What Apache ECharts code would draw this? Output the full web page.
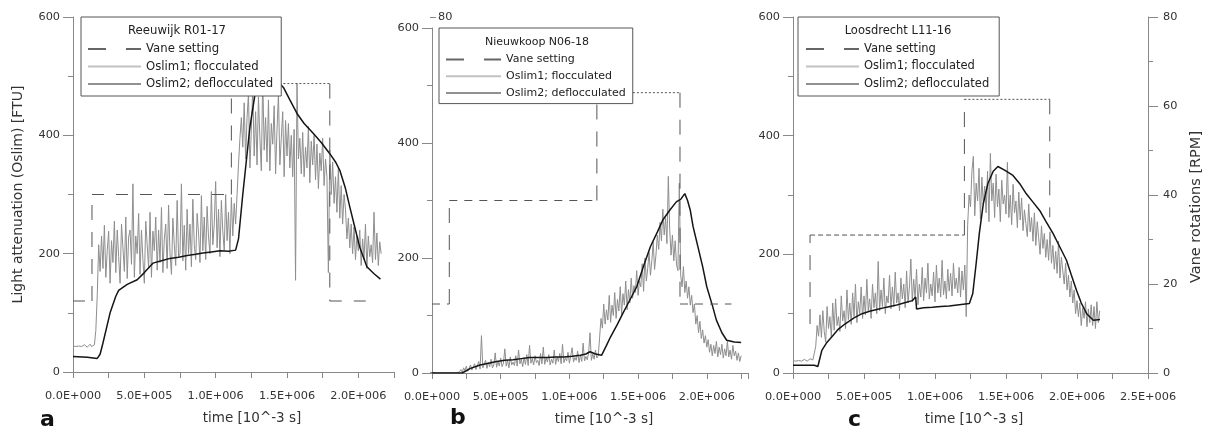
<!DOCTYPE html>
<html>
<head>
<meta charset="utf-8">
<title>Oslim vane tests</title>
<script src="https://cdn.jsdelivr.net/npm/echarts@6/dist/echarts.min.js"></script>
<style>
  html, body { margin: 0; padding: 0; background: #fff; }
  #main { width: 1209px; height: 432px; }
</style>
</head>
<body>
<div id="main"></div>
<script>
// Oslim1 is logged at a fixed step [10^-3 s]
const dt = 10000;

// a: Reeuwijk R01-17
const oslim1A = [
  44, 46, 43, 45, 44, 47, 43, 45, 46, 44, 42, 45, 47, 43, 44, 46,
  70, 130, 215, 170,
  230, 175, 248, 160, 205, 238, 150, 222, 185, 255,
  168, 240, 195, 150, 250, 210, 170, 262, 158, 228,
  240, 182, 318, 160, 230, 200, 268, 165, 240, 190,
  150, 255, 215, 175, 270, 160, 238, 205, 262, 172,
  240, 185, 278, 168, 225, 250, 175, 282, 200, 165,
  260, 215, 180, 290, 195, 200, 318, 188, 248, 172,
  275, 200, 250, 178, 292, 215, 190, 268, 235, 185,
  298, 205, 262, 190, 280, 228, 200, 305, 215, 250,
  322, 210, 275, 195, 290, 238, 205, 300, 222, 270,
  200, 295, 230, 285,
  250, 300, 350, 395, 430, 380,
  455, 360, 430, 470, 345, 410, 480, 365, 440, 350,
  465, 395, 340, 500, 375, 430, 355, 460, 340, 420,
  385, 450, 335, 410, 470, 350, 395, 440, 330, 425, 365,
  420, 345, 400, 330, 410, 155, 488, 360, 395, 335,
  405, 330, 380, 345, 415, 320, 390, 350, 400, 325,
  385, 310, 370, 340, 395, 315, 360, 330, 168, 375,
  300, 355, 285, 330, 270, 345, 260, 315, 250, 300,
  275, 225, 260, 210, 250, 200, 245, 190, 230, 205,
  240, 180, 225, 190, 250, 175, 230, 195, 215, 185,
  270, 190, 235, 180, 220, 200
];
const oslim2A = [
  [0, 26], [100000, 25], [170000, 23], [190000, 30], [210000, 49], [260000, 100],
  [300000, 128], [320000, 138], [380000, 148], [450000, 156], [500000, 168],
  [560000, 184], [620000, 188], [680000, 192], [740000, 194], [800000, 197],
  [860000, 199], [910000, 201], [970000, 203], [1030000, 205], [1090000, 204],
  [1140000, 206], [1160000, 225], [1190000, 300], [1240000, 414], [1280000, 476],
  [1320000, 496], [1360000, 500], [1405000, 498], [1440000, 490], [1475000, 481],
  [1520000, 460], [1570000, 437], [1620000, 420], [1685000, 403], [1740000, 388],
  [1800000, 369], [1840000, 355], [1870000, 341], [1910000, 310], [1940000, 279],
  [1980000, 240], [2010000, 211], [2060000, 178], [2110000, 166], [2155000, 157]
];
const vaneA = [[0, 16], [133000, 16], [133000, 40], [1110000, 40], [1110000, 65], [1800000, 65], [1800000, 16], [2100000, 16]];

// b: Nieuwkoop N06-18
const oslim1B = [
  0, 0, 0, 0, 0, 0, 0, 0, 0, 0, 0, 0, 0, 0, 0, 0, 0, 0, 0, 0,
  2, 6, 1, 9, 4, 12, 3, 8, 14, 5,
  10, 16, 6, 13, 20, 7, 65, 9, 15, 22,
  8, 18, 11, 24, 9, 14, 35, 10, 20, 12,
  26, 11, 17, 42, 12, 22, 9, 28, 14, 19,
  13, 30, 12, 40, 16, 24, 11, 27, 15, 32,
  13, 48, 17, 25, 14, 30, 18, 22, 13, 34,
  16, 45, 15, 26, 19, 32, 14, 24, 17, 40,
  15, 28, 20, 34, 16, 50, 18, 26, 21, 36,
  17, 30, 44, 19, 27, 22, 38, 18, 31, 20,
  52, 21, 29, 23, 35, 70, 22, 33, 24, 40, 26,
  30, 62, 95, 78,
  120, 85, 110, 92, 135, 88, 118, 100, 140, 95,
  128, 108, 150, 102, 138, 118, 160, 110, 145, 122,
  165, 130, 152, 140, 178, 135, 160, 150, 190, 142,
  200, 160, 182, 210, 170, 195, 228, 180, 205, 240,
  215, 262, 230, 285, 240, 270,
  225, 342, 250, 205, 240, 195, 230, 188, 178, 330,
  170, 150, 185, 140, 160, 130, 150, 118, 135, 105,
  120, 85, 100, 70, 90, 60, 75, 52, 65, 45,
  58, 36, 50, 30, 48, 34, 55, 28, 45, 32,
  50, 26, 42, 30, 55, 28, 40, 24, 48, 30,
  38, 22, 35, 20, 30
];
const oslim2B = [
  [0, 0], [220000, 0], [280000, 8], [350000, 14], [410000, 17], [470000, 20],
  [530000, 22], [590000, 23], [650000, 25], [710000, 27], [770000, 27], [840000, 27],
  [900000, 28], [960000, 28], [1020000, 29], [1080000, 31], [1120000, 33], [1150000, 37],
  [1190000, 33], [1235000, 31], [1270000, 48], [1300000, 63], [1350000, 85], [1390000, 104],
  [1440000, 127], [1490000, 150], [1540000, 186], [1590000, 220], [1640000, 245],
  [1680000, 266], [1730000, 283], [1780000, 298], [1810000, 302], [1840000, 312],
  [1860000, 300], [1880000, 283], [1900000, 255], [1930000, 225], [1970000, 185],
  [2000000, 150], [2040000, 118], [2070000, 92], [2110000, 70], [2145000, 57],
  [2200000, 54], [2250000, 53]
];
const vaneB = [[0, 16], [126000, 16], [126000, 40], [1200000, 40], [1200000, 65], [1805000, 65], [1805000, 16], [2180000, 16]];

// c: Loosdrecht L11-16
const oslim1C = [
  21, 23, 20, 22, 21, 24, 20, 22, 23, 21, 20, 22, 24, 21, 22, 20,
  45, 80, 62, 98,
  60, 105, 70, 52, 112, 75, 95, 60, 118, 72,
  125, 80, 95, 70, 130, 88, 105, 75, 140, 90,
  118, 82, 135, 95, 150, 85, 120, 100, 145, 92,
  130, 98, 158, 105, 125, 92, 150, 110, 135, 100,
  188, 105, 140, 112, 160, 100, 130, 118, 165, 108,
  145, 112, 170, 118, 135, 105, 160, 125, 150, 110,
  172, 118, 145, 192, 120, 158, 125, 175, 115, 150,
  128, 178, 122, 160, 135, 185, 125, 150, 130, 170,
  120, 182, 135, 160, 128, 190, 132, 155, 125, 175,
  138, 168, 130, 185, 142, 160, 135, 178, 128, 172, 140, 182,
  95, 250, 300,
  280, 340, 365, 265, 320, 290, 345, 260, 330, 285,
  315, 270, 340, 255, 370, 290, 320, 262, 335, 280,
  310, 255, 325, 285, 300, 268,
  355, 262, 300, 250, 318, 270, 290, 245, 305, 258,
  295, 240, 275, 252, 230, 285, 238, 262, 222, 270,
  215, 255, 228, 200, 248, 210, 235, 195, 225, 190,
  238, 185, 215, 175, 205, 168, 222, 160, 195, 172,
  150, 185, 140, 165, 128, 155, 118, 140, 100, 122,
  95, 118, 80, 110, 92, 120, 78, 108, 85, 115,
  80, 112, 75, 120, 85, 105
];
const oslim2C = [
  [0, 13], [150000, 13], [175000, 11], [203000, 38], [240000, 52], [274000, 61],
  [320000, 74], [368000, 83], [430000, 93], [486000, 100], [540000, 104], [604000, 108],
  [660000, 111], [722000, 114], [780000, 118], [840000, 122], [864000, 128], [870000, 108],
  [920000, 110], [982000, 111], [1040000, 112], [1100000, 113], [1170000, 115],
  [1242000, 117], [1266000, 134], [1290000, 185], [1312000, 235], [1340000, 285],
  [1372000, 319], [1410000, 340], [1443000, 348], [1490000, 342], [1549000, 333],
  [1600000, 318], [1643000, 302], [1690000, 288], [1737000, 274], [1780000, 256],
  [1832000, 235], [1880000, 212], [1926000, 190], [1960000, 165], [1997000, 139],
  [2030000, 118], [2068000, 100], [2115000, 89], [2162000, 90]
];
const vaneC = [[120000, 11], [120000, 31], [1207000, 31], [1207000, 61.5], [1808000, 61.5], [1808000, 35]];

const seriesNames = ['Vane setting', 'Oslim1; flocculated', 'Oslim2; deflocculated'];

(function () {
  const font = 'DejaVu Sans';
  const axisColor = '#888';
  const textColor = '#333';

  const panels = [
    { letter: 'a', title: 'Reeuwijk R01-17', gray: oslim1A, black: oslim2A, vane: vaneA, hDash: [12, 12],
      grid: { left: 73, top: 17, width: 321, height: 355 }, xMax: 2250000, nameShift: 37,
      legend: { left: 81, top: 17, padding: [26, 8, 6, 6], itemWidth: 53, fontSize: 11.7 },
      titleAt: [177, 25], letterAt: [40, 409] },
    { letter: 'b', title: 'Nieuwkoop N06-18', gray: oslim1B, black: oslim2B, vane: vaneB, hDash: [8, 7],
      grid: { left: 432, top: 28, width: 316, height: 345 }, xMax: 2300000, nameShift: 28,
      legend: { left: 439, top: 28, padding: [26, 7, 5, 6], itemWidth: 55, fontSize: 11 },
      titleAt: [537, 37], letterAt: [450, 407] },
    { letter: 'c', title: 'Loosdrecht L11-16', gray: oslim1C, black: oslim2C, vane: vaneC, hDash: [5, 3],
      grid: { left: 793, top: 17, width: 355, height: 356 }, xMax: 2500000, nameShift: 7,
      legend: { left: 798, top: 17, padding: [26, 10, 6, 7], itemWidth: 53, fontSize: 11.5 },
      titleAt: [898, 25], letterAt: [848, 409] }
  ];

  function sciLabel(v) {
    const r = Math.round(v);
    if (r % 500000 !== 0) return '';
    if (r === 0) return '0.0E+000';
    const e = Math.floor(Math.log10(r) + 1e-9);
    return (r / Math.pow(10, e)).toFixed(1) + 'E+' + String(e).padStart(3, '0');
  }

  const grids = [], xAxes = [], yAxes = [], series = [], legends = [], titles = [];

  panels.forEach((p, i) => {
    grids.push(Object.assign({ show: false }, p.grid));

    xAxes.push({
      type: 'value', gridIndex: i, min: 0, max: p.xMax, interval: 250000,
      axisLine: { show: true, onZero: false, lineStyle: { color: axisColor } },
      axisTick: { show: true, length: 6, lineStyle: { color: axisColor } },
      axisLabel: { formatter: sciLabel, margin: 19, fontSize: 11.3, color: textColor, fontFamily: font },
      splitLine: { show: false },
      name: 'time [10^-3 s]', nameLocation: 'middle', nameGap: 39,
      nameTextStyle: { fontSize: 13.5, color: textColor, fontFamily: font, padding: [0, 0, 0, p.nameShift] }
    });

    // left: light attenuation
    yAxes.push({
      type: 'value', gridIndex: i, position: 'left', min: 0, max: 600, interval: 200,
      axisLine: { show: true, lineStyle: { color: axisColor } },
      axisTick: { show: true, length: 10, lineStyle: { color: axisColor } },
      minorTick: { show: true, splitNumber: 2, length: 5, lineStyle: { color: axisColor } },
      axisLabel: { margin: 13, fontSize: 11.3, color: textColor, fontFamily: font },
      splitLine: { show: false },
      name: i === 0 ? 'Light attenuation (Oslim) [FTU]' : '',
      nameLocation: 'middle', nameGap: 48,
      nameTextStyle: { fontSize: 14, color: textColor, fontFamily: font }
    });

    // right: vane rotations
    let right = { type: 'value', gridIndex: i, position: 'right', min: 0, max: 80, show: false };
    if (i === 0) {
      // only the top of this axis shows, the rest sits under panel b
      right = {
        type: 'value', gridIndex: i, position: 'right', offset: 36, min: 0, max: 80, interval: 80,
        axisLine: { show: false },
        axisTick: { show: true, length: 6, lineStyle: { color: axisColor } },
        axisLabel: { margin: 8, fontSize: 11.3, color: textColor, fontFamily: font, formatter: v => v === 80 ? '80' : '' },
        splitLine: { show: false }
      };
    } else if (i === 2) {
      right = {
        type: 'value', gridIndex: i, position: 'right', min: 0, max: 80, interval: 20,
        axisLine: { show: true, lineStyle: { color: axisColor } },
        axisTick: { show: true, length: 10, lineStyle: { color: axisColor } },
        minorTick: { show: true, splitNumber: 2, length: 5, lineStyle: { color: axisColor } },
        axisLabel: { margin: 15, fontSize: 11.3, color: textColor, fontFamily: font },
        splitLine: { show: false },
        name: 'Vane rotations [RPM]', nameLocation: 'middle', nameGap: 41,
        nameTextStyle: { fontSize: 14.5, color: textColor, fontFamily: font, padding: [0, 24, 0, 0] }
      };
    }
    yAxes.push(right);

    const yl = i * 2, yr = i * 2 + 1;

    series.push({
      name: seriesNames[1], type: 'line', xAxisIndex: i, yAxisIndex: yl,
      data: p.gray.map((v, k) => [k * dt, v]),
      symbol: 'none', lineStyle: { color: '#8e8e8e', width: 1 }, itemStyle: { color: '#8e8e8e' }, z: 2
    });
    series.push({
      name: seriesNames[2], type: 'line', xAxisIndex: i, yAxisIndex: yl,
      data: p.black, symbol: 'none',
      lineStyle: { color: '#151515', width: 1.5 }, itemStyle: { color: '#151515' }, z: 3
    });

    // vane setting, one piece per step so each piece keeps its own dash
    const top = Math.max(...p.vane.map(d => d[1]));
    for (let k = 1; k < p.vane.length; k++) {
      const a = p.vane[k - 1], b = p.vane[k];
      let dash = p.hDash;
      if (a[0] === b[0]) dash = [15, 12];
      else if (a[1] === top && b[1] === top) dash = [2, 2];
      series.push({
        name: seriesNames[0], type: 'line', xAxisIndex: i, yAxisIndex: yr,
        data: [a, b], symbol: 'none',
        lineStyle: { color: '#555', width: 1, type: dash }, itemStyle: { color: '#555' }, z: 3
      });
    }

    legends.push({
      left: p.legend.left, top: p.legend.top, orient: 'vertical', align: 'left',
      padding: p.legend.padding, itemWidth: p.legend.itemWidth, itemHeight: 14, itemGap: 5.5,
      borderColor: '#555', borderWidth: 1, borderRadius: 0, backgroundColor: '#fff',
      selectedMode: false,
      itemStyle: { opacity: 0 },
      textStyle: { fontFamily: font, fontSize: p.legend.fontSize, color: '#222' },
      data: [
        { name: seriesNames[0], lineStyle: { type: [18, 20], color: '#666' } },
        { name: seriesNames[1], lineStyle: { color: '#c2c2c2' } },
        { name: seriesNames[2], lineStyle: { color: '#222', width: 1 } }
      ]
    });

    titles.push({
      text: p.title, left: p.titleAt[0], top: p.titleAt[1], textAlign: 'center', padding: 0,
      textStyle: { fontFamily: font, fontSize: p.legend.fontSize, fontWeight: 'normal', color: '#222' }
    });
    titles.push({
      text: p.letter, left: p.letterAt[0], top: p.letterAt[1], padding: 0,
      textStyle: { fontFamily: font, fontSize: 22, fontWeight: 'bold', color: '#111' }
    });
  });

  const chart = echarts.init(document.getElementById('main'));
  chart.setOption({
    animation: false,
    backgroundColor: '#fff',
    textStyle: { fontFamily: font },
    title: titles,
    legend: legends,
    grid: grids,
    xAxis: xAxes,
    yAxis: yAxes,
    series: series
  });
})();
</script>
</body>
</html>
